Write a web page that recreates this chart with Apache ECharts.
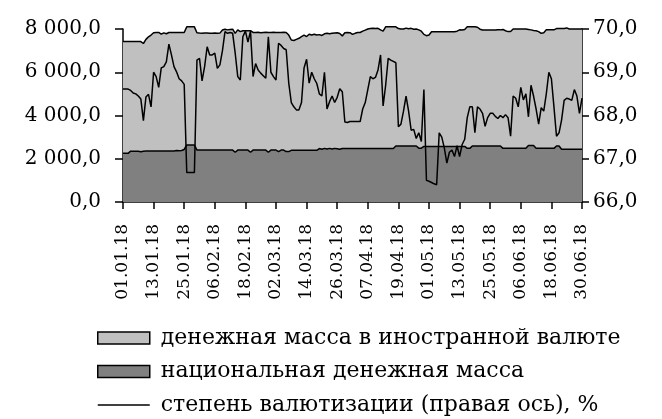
<!DOCTYPE html>
<html><head><meta charset="utf-8">
<script src="https://cdn.jsdelivr.net/npm/echarts@6/dist/echarts.min.js"></script>
<style>html,body{margin:0;padding:0;background:#fff}#c{width:662px;height:419px}</style>
</head><body><div id="c"></div>
<script>
// Categories: daily dates 01.01.18 .. 30.06.18
const startDate = Date.UTC(2018, 0, 1);
const dayCount = 181;
const categories = [];
for (let i = 0; i < dayCount; i++) {
  const d = new Date(startDate + i * 86400000);
  const dd = String(d.getUTCDate()).padStart(2, '0');
  const mm = String(d.getUTCMonth() + 1).padStart(2, '0');
  categories.push(dd + '.' + mm + '.18');
}

const seriesNames = ['денежная масса в иностранной валюте', 'национальная денежная масса', 'степень валютизации (правая ось), %'];

// национальная денежная масса
const national = [
2250,2250,2250,2350,2350,2350,2350,2320,2350,2355,
2355,2355,2360,2355,2360,2355,2360,2355,2360,2360,
2360,2380,2370,2380,2430,2640,2640,2640,2640,2400,
2400,2400,2400,2400,2400,2400,2400,2400,2400,2400,
2400,2400,2400,2400,2300,2400,2400,2400,2400,2400,
2300,2400,2400,2400,2400,2400,2400,2300,2400,2400,
2400,2330,2400,2400,2330,2330,2390,2390,2390,2390,
2390,2390,2390,2390,2390,2390,2390,2470,2440,2480,
2450,2480,2450,2480,2460,2440,2470,2470,2470,2470,
2470,2470,2470,2470,2470,2470,2470,2470,2470,2470,
2470,2470,2470,2470,2470,2470,2470,2590,2590,2590,
2590,2590,2590,2590,2590,2590,2490,2490,2570,2570,
2570,2570,2570,2570,2570,2570,2570,2570,2570,2570,
2570,2570,2570,2570,2570,2480,2480,2590,2590,2590,
2590,2590,2590,2590,2590,2590,2590,2590,2590,2480,
2480,2480,2480,2480,2480,2480,2480,2480,2480,2610,
2610,2610,2480,2480,2480,2480,2480,2480,2480,2480,
2590,2590,2440,2440,2440,2440,2440,2440,2440,2440,
2440
];

// денежная масса в иностранной валюте
const foreign = [
5170,5170,5170,5070,5070,5070,5070,5100,4980,5165,
5285,5365,5470,5485,5480,5405,5460,5425,5480,5480,
5480,5460,5470,5460,5410,5460,5460,5460,5460,5430,
5410,5400,5410,5420,5400,5400,5410,5400,5410,5550,
5590,5560,5580,5590,5500,5560,5480,5520,5520,5520,
5620,5440,5440,5450,5430,5440,5450,5540,5440,5450,
5440,5510,5440,5450,5510,5390,5100,5080,5130,5180,
5260,5330,5260,5370,5330,5370,5330,5270,5260,5300,
5350,5300,5350,5340,5370,5350,5210,5360,5370,5360,
5280,5330,5370,5370,5430,5480,5530,5550,5560,5550,
5560,5490,5430,5630,5630,5630,5630,5510,5430,5410,
5410,5450,5420,5440,5400,5410,5470,5410,5180,5120,
5150,5300,5300,5300,5300,5300,5300,5300,5300,5300,
5300,5330,5390,5380,5410,5620,5620,5510,5510,5490,
5400,5360,5360,5360,5360,5360,5360,5370,5370,5500,
5440,5400,5400,5520,5520,5520,5520,5520,5520,5370,
5350,5320,5440,5400,5320,5350,5480,5480,5480,5480,
5430,5430,5580,5580,5610,5560,5560,5560,5560,5560,
5560
];

// степень валютизации, %
const dollarization = [
68.61,68.61,68.61,68.58,68.52,68.50,68.45,68.38,67.88,68.43,
68.49,68.20,69.00,68.90,68.65,69.10,69.13,69.24,69.65,69.40,
69.13,69.01,68.85,68.80,68.72,66.68,66.68,66.68,66.68,69.28,
69.32,68.80,69.13,69.59,69.40,69.40,69.44,69.09,69.17,69.50,
69.94,69.90,69.92,69.90,69.44,68.90,68.82,69.82,69.95,69.70,
69.95,68.90,69.20,69.05,68.98,68.92,68.86,69.82,69.00,68.90,
68.82,69.67,69.62,69.55,69.52,68.75,68.30,68.20,68.13,68.13,
68.30,69.10,69.30,68.75,69.00,68.85,68.74,68.50,68.45,69.00,
68.15,68.32,68.45,68.30,68.42,68.62,68.55,67.85,67.84,67.86,
67.86,67.86,67.86,67.86,68.15,68.30,68.60,68.90,68.85,68.88,
69.05,69.40,68.22,68.70,69.32,69.28,69.25,69.22,67.74,67.80,
68.10,68.45,68.10,67.66,67.68,67.47,67.60,67.40,68.60,66.50,
66.48,66.45,66.42,66.40,67.60,67.50,67.25,66.90,67.15,67.20,
67.05,67.30,67.05,67.33,67.45,67.95,68.20,68.20,67.60,68.20,
68.15,68.05,67.75,67.95,68.05,68.05,67.98,67.93,68.00,67.95,
68.02,67.95,67.52,68.45,68.40,68.20,68.65,68.36,68.50,67.97,
68.70,68.45,68.15,67.80,68.18,68.10,68.50,69.00,68.85,68.20,
67.52,67.60,67.90,68.35,68.40,68.38,68.35,68.60,68.45,68.05,
68.40
];

const leftTicks = { min: 0, max: 8000, interval: 2000 };
const rightTicks = { min: 66, max: 70, interval: 1 };

const FONT = 'DejaVu Serif';
function fmtLeft(v) {
  const s = v.toFixed(1).replace('.', ',');
  const parts = s.split(',');
  const intPart = parts[0].replace(/\B(?=(\d{3})+(?!\d))/g, ' ');
  return intPart + ',' + parts[1];
}

const chart = echarts.init(document.getElementById('c'), null, { renderer: 'canvas' });
chart.setOption({
  backgroundColor: '#ffffff',
  animation: false,
  grid: { left: 123, right: 80, top: 29, bottom: 217, containLabel: false },
  legend: {
    orient: 'vertical',
    left: 97,
    top: 327,
    padding: 0,
    itemWidth: 52,
    itemHeight: 12,
    itemGap: 11.5,
    textStyle: { fontFamily: FONT, fontSize: 22, color: '#000', lineHeight: 22, padding: [0, 0, 0, 6] },
    data: [
      { name: seriesNames[0], icon: 'rect', itemStyle: { color: '#c0c0c0', borderColor: '#000', borderWidth: 1.5 } },
      { name: seriesNames[1], icon: 'rect', itemStyle: { color: '#808080', borderColor: '#000', borderWidth: 1.5 } },
      { name: seriesNames[2], itemStyle: { color: 'rgba(0,0,0,0)', borderWidth: 0, opacity: 0 }, lineStyle: { color: '#000', width: 1.5 } }
    ]
  },
  xAxis: {
    type: 'category',
    data: categories,
    boundaryGap: false,
    axisLine: { lineStyle: { color: '#000', width: 1.5 } },
    axisTick: { interval: 11, length: 7, lineStyle: { color: '#000', width: 1.5 } },
    axisLabel: { interval: 11, rotate: 90, margin: 22, fontFamily: FONT, fontSize: 17, color: '#000' },
    splitLine: { show: false }
  },
  yAxis: [
    {
      type: 'value', position: 'left',
      min: leftTicks.min, max: leftTicks.max, interval: leftTicks.interval,
      axisLine: { show: true, lineStyle: { color: '#000', width: 1.5 } },
      axisTick: { show: true, length: 8, lineStyle: { color: '#000', width: 1.5 } },
      axisLabel: { margin: 22, fontFamily: FONT, fontSize: 20, color: '#000', formatter: fmtLeft },
      splitLine: { show: false }
    },
    {
      type: 'value', position: 'right',
      min: rightTicks.min, max: rightTicks.max, interval: rightTicks.interval,
      axisLine: { show: true, lineStyle: { color: '#000', width: 1.5 } },
      axisTick: { show: true, length: 7, lineStyle: { color: '#000', width: 1.5 } },
      axisLabel: { margin: 11, fontFamily: FONT, fontSize: 20, color: '#000', formatter: v => v.toFixed(1).replace('.', ',') },
      splitLine: { show: false }
    }
  ],
  series: [
    {
      name: seriesNames[1], type: 'line', stack: 'm', yAxisIndex: 0, data: national,
      symbol: 'none', clip: false, z: 2,
      lineStyle: { color: '#000', width: 1.5 },
      itemStyle: { color: '#808080' },
      areaStyle: { color: '#808080', opacity: 1 }
    },
    {
      name: seriesNames[0], type: 'line', stack: 'm', yAxisIndex: 0, data: foreign,
      symbol: 'none', clip: false, z: 2,
      lineStyle: { color: '#000', width: 1.5 },
      itemStyle: { color: '#c0c0c0' },
      areaStyle: { color: '#c0c0c0', opacity: 1 }
    },
    {
      name: seriesNames[2], type: 'line', yAxisIndex: 1, data: dollarization,
      symbol: 'none', clip: false, z: 3,
      lineStyle: { color: '#000', width: 1.5 },
      itemStyle: { color: '#000' }
    }
  ]
});
</script>
</body></html>
